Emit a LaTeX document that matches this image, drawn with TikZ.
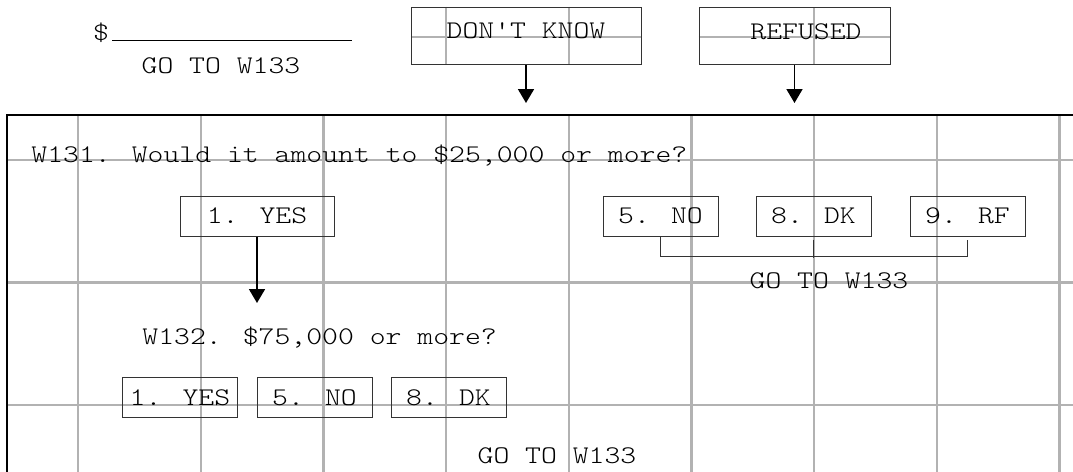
\documentclass[tikz,border=0pt]{standalone}
\usepackage{fontspec}
\usetikzlibrary{arrows.meta,positioning,backgrounds}
\newfontfamily\formfam{lmmonolt10-regular}[Extension=.otf,FakeStretch=1.19]
\newcommand{\formfont}{\fontsize{12.7}{15}\formfam}
\tikzset{
  opt/.style={draw=black!80,line width=0.5pt,minimum width=57.5pt,minimum height=20pt,inner sep=0pt,font=\formfont},
  topbox/.style={draw=black!80,line width=0.5pt,minimum height=28.5pt,inner sep=0pt,text depth=4.5pt,font=\formfont},
  txt/.style={inner sep=0pt,font=\formfont,anchor=base},
  arr/.style={-{Triangle[length=7pt,width=8pt]},line width=0.9pt},
  gridline/.style={draw=black!30,line width=1.2pt},
  frame/.style={line width=0.7pt},
  bracket/.style={draw=black!80,line width=0.5pt},
}

\begin{document}
\begin{tikzpicture}[x=0.5pt,y=-0.5pt]
\useasboundingbox (0,0) rectangle (1073,472);
% top row
\node[txt] (dollar) at (101,40) {\$};
\draw[line width=0.5pt] ([xshift=1.5pt]dollar.base east) -- ++(240,0);
\node[txt] (goa) at (221,73) {GO TO W133};
\node[topbox,minimum width=115pt] (dk) at (526,35.5) {DON'T KNOW};
\node[topbox,minimum width=95.5pt] (rf) at (794.5,36) {\hspace{11.5pt}REFUSED};
\coordinate (drop) at (0,103);

% W131
\draw[frame] (7,472) |- (1073,115);
\node[txt,anchor=base west] (q131) at (31,162.5) {W131. Would it amount to \$25,000 or more?};
\node[opt,minimum width=77pt] (yes1) at (257,216) {1. YES};
\node[opt] (no1) at (660.5,216) {5. NO};
\node[opt] (dk1) at (813.5,216) {8. DK};
\node[opt] (rf1) at (967.5,216) {9. RF};
\coordinate (brk) at (0,256);
\node[txt] (gob) at (829,288) {GO TO W133};

% W132
\coordinate (yesend) at (0,303);
\node[txt,anchor=base west] (q132) at (142,344) {W132. \$75,000 or more?};
\node[opt] (yes2) at (180,397.5) {1. YES};
\node[opt] (no2) at (314.5,397.5) {5. NO};
\node[opt] (dk2) at (448.5,397.5) {8. DK};
\node[txt] (goc) at (557,463) {GO TO W133};

\draw[arr] (dk.south) -- (dk.south |- drop);
\draw[arr] (rf.south) -- (rf.south |- drop);
\draw[arr] (yes1.south) -- (yes1.south |- yesend);
\draw[bracket] (no1.south) |- (rf1.south |- brk) -- ([yshift=-1.5pt]rf1.south);
\draw[bracket] ([yshift=-1.5pt]dk1.south) -- ([yshift=-1pt]dk1.south |- brk);

% grid, behind everything
\coordinate (grow) at (0,37);
\coordinate (gc3) at (446.1,0);
\coordinate (gc4) at (568.8,0);
\coordinate (gc6) at (814.2,0);
\begin{scope}[on background layer]
\draw[gridline] (dk.west |- grow) -- (dk.east |- grow);
\draw[gridline] (rf.west |- grow) -- (rf.east |- grow);
\draw[gridline] (gc3 |- dk.north) -- (gc3 |- dk.south);
\draw[gridline] (gc4 |- dk.north) -- (gc4 |- dk.south);
\draw[gridline] (gc6 |- rf.north) -- (gc6 |- rf.south);
\begin{scope}
\clip (7,115) rectangle (1073,472);
\foreach \k in {0,...,8} \draw[gridline] ({78+122.7*\k},115) -- ({78+122.7*\k},472);
\foreach \k in {1,...,3} \draw[gridline] (7,{37+122.7*\k}) -- (1073,{37+122.7*\k});
\end{scope}
\end{scope}
\end{tikzpicture}
\end{document}
